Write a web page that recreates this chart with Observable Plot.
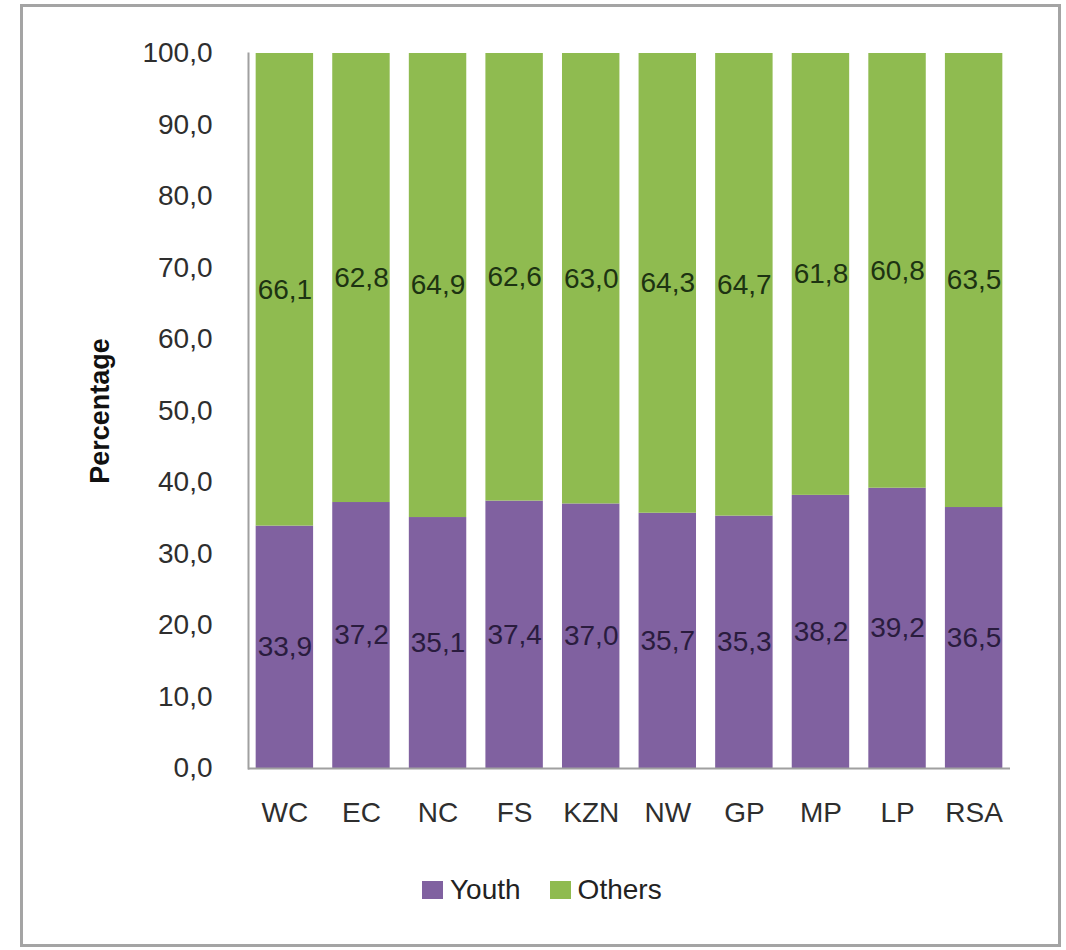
<!DOCTYPE html>
<html>
<head>
<meta charset="utf-8">
<script src="https://cdn.jsdelivr.net/npm/d3@7"></script>
<script src="https://cdn.jsdelivr.net/npm/@observablehq/plot@0.6"></script>
<style>
  html, body { margin: 0; padding: 0; background: #fff; }
  body { width: 1066px; height: 950px; position: relative; overflow: hidden; font-family: "Liberation Sans", Arial, sans-serif; }
  #box { position: absolute; left: 20px; top: 4px; width: 1035px; height: 937px; border: 3px solid #a4a4a4; }
  #chart { position: absolute; left: 0; top: 0; }
  #legend { position: absolute; left: 422px; top: 874px; display: flex; align-items: center; font-size: 28px; color: #222; }
  .item { display: flex; align-items: center; margin-right: 29px; }
  .sw { width: 21px; height: 18px; margin-right: 7px; }
</style>
</head>
<body>
<div id="box"></div>
<div id="chart"></div>
<div id="legend"></div>
<script>
const regions = ["WC", "EC", "NC", "FS", "KZN", "NW", "GP", "MP", "LP", "RSA"];
const youth   = [33.9, 37.2, 35.1, 37.4, 37.0, 35.7, 35.3, 38.2, 39.2, 36.5];
const others  = [66.1, 62.8, 64.9, 62.6, 63.0, 64.3, 64.7, 61.8, 60.8, 63.5];
const seriesNames = ["Youth", "Others"];
const seriesColors = ["#8061a0", "#8fbb50"];
const labelColors = ["#2a1c3e", "#1d3312"];
const yTicks = [0, 10, 20, 30, 40, 50, 60, 70, 80, 90, 100];
const yTitle = "Percentage";

const fmt = v => v.toFixed(1).replace(".", ",");

const data = [];
regions.forEach((r, i) => {
  data.push({region: r, series: "Youth", value: youth[i]});
  data.push({region: r, series: "Others", value: others[i]});
});

const textOpts = {x: "region", y: "value", z: "series", text: d => fmt(d.value), fontSize: 28};

const chart = Plot.plot({
  width: 1066,
  height: 850,
  marginLeft: 248,
  marginRight: 56,
  marginTop: 53,
  marginBottom: 82,
  style: {fontFamily: "Liberation Sans, Arial, sans-serif", fontSize: "28px", color: "#2e2e2e", background: "transparent"},
  x: {domain: regions, paddingInner: 0.25, paddingOuter: 0.1, round: false, label: null},
  y: {domain: [0, 100], label: null},
  color: {domain: seriesNames, range: seriesColors},
  marks: [
    Plot.barY(data, {x: "region", y: "value", fill: "series", order: seriesNames}),
    Plot.text(data, Plot.filter(d => d.series === "Youth", Plot.stackY({...textOpts, order: seriesNames, fill: labelColors[0]}))),
    Plot.text(data, Plot.filter(d => d.series === "Others", Plot.stackY({...textOpts, order: seriesNames, fill: labelColors[1]}))),
    Plot.ruleY([0], {stroke: "#a0a0a0", strokeWidth: 2}),
    Plot.frame({anchor: "left", stroke: "#a0a0a0", strokeWidth: 2}),
    Plot.axisY({ticks: yTicks, tickFormat: fmt, tickSize: 0, tickPadding: 36, fontSize: 28, label: null}),
    Plot.axisX({tickSize: 0, tickPadding: 34, fontSize: 28, label: null}),
    Plot.text([yTitle], {text: d => d, frameAnchor: "left", textAnchor: "middle", rotate: -90, dx: -148, fontSize: 27, fontWeight: "bold", fill: "#111"})
  ]
});
document.getElementById("chart").appendChild(chart);

const legend = document.getElementById("legend");
seriesNames.forEach((s, i) => {
  const item = document.createElement("div");
  item.className = "item";
  const sw = document.createElement("div");
  sw.className = "sw";
  sw.style.background = seriesColors[i];
  const t = document.createElement("span");
  t.textContent = s;
  item.appendChild(sw);
  item.appendChild(t);
  legend.appendChild(item);
});
</script>
</body>
</html>
